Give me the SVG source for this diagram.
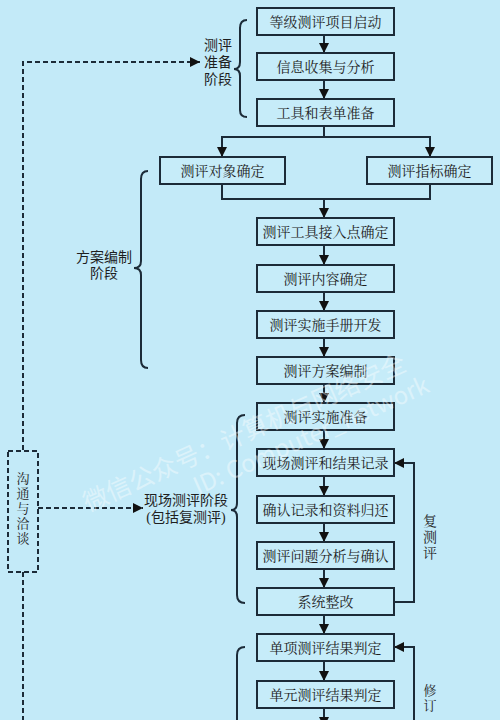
<svg xmlns="http://www.w3.org/2000/svg" width="500" height="720" viewBox="0 0 500 720">
<defs>
<style>
.bg{fill:#c3eaf8}
.box rect{fill:#c6ecf9;stroke:#1c2b38;stroke-width:2}
.box text,.lbl{font-family:"Noto Serif CJK SC","Noto Sans CJK SC","DejaVu Serif",serif;font-size:14px;fill:#1e1e1e;text-anchor:middle}
.ml{font-family:"Liberation Serif","Noto Sans CJK SC",serif}
.vert{writing-mode:vertical-rl;letter-spacing:2px}
.vl{font-size:13px}
.ln{fill:none;stroke:#1c2b38;stroke-width:2}
.dash{fill:none;stroke:#1c2b38;stroke-width:2;stroke-dasharray:5,3}
.wm{font-family:"Noto Sans CJK SC",sans-serif;fill:#ffffff;opacity:0.4}
</style>
<marker id="ah" markerUnits="userSpaceOnUse" markerWidth="10" markerHeight="12" refX="10" refY="6" orient="auto">
<path d="M0,1 L10,6 L0,11 Z" fill="#111"/>
</marker>
</defs>
<rect class="bg" x="0" y="0" width="500" height="720"/>

<g id="connectors">
<line class="ln" x1="324" y1="35" x2="324" y2="53" marker-end="url(#ah)"/>
<line class="ln" x1="324" y1="80" x2="324" y2="99" marker-end="url(#ah)"/>
<polyline class="ln" points="324,126 324,137"/>
<polyline class="ln" points="222,137 430,137"/>
<line class="ln" x1="222" y1="136" x2="222" y2="157" marker-end="url(#ah)"/>
<line class="ln" x1="430" y1="136" x2="430" y2="157" marker-end="url(#ah)"/>
<polyline class="ln" points="222,184 222,199 430,199 430,184"/>
<line class="ln" x1="324" y1="199" x2="324" y2="218" marker-end="url(#ah)"/>
<line class="ln" x1="324" y1="245" x2="324" y2="265" marker-end="url(#ah)"/>
<line class="ln" x1="324" y1="292" x2="324" y2="311" marker-end="url(#ah)"/>
<line class="ln" x1="324" y1="338" x2="324" y2="357" marker-end="url(#ah)"/>
<line class="ln" x1="324" y1="384" x2="324" y2="403" marker-end="url(#ah)"/>
<line class="ln" x1="324" y1="430" x2="324" y2="449" marker-end="url(#ah)"/>
<line class="ln" x1="324" y1="476" x2="324" y2="496" marker-end="url(#ah)"/>
<line class="ln" x1="324" y1="523" x2="324" y2="542" marker-end="url(#ah)"/>
<line class="ln" x1="324" y1="569" x2="324" y2="588" marker-end="url(#ah)"/>
<line class="ln" x1="324" y1="615" x2="324" y2="634" marker-end="url(#ah)"/>
<line class="ln" x1="324" y1="661" x2="324" y2="681" marker-end="url(#ah)"/>
<line class="ln" x1="324" y1="708" x2="324" y2="727" marker-end="url(#ah)"/>
<polyline class="ln" points="394,602 414,602 414,463 394,463" marker-end="url(#ah)"/>
<polyline class="ln" points="414,720 414,647 394,647" marker-end="url(#ah)"/>
<polyline class="dash" points="23,450 23,62 200,62" marker-end="url(#ah)"/>
<line class="dash" x1="23" y1="572" x2="23" y2="720"/>
<line class="dash" x1="38" y1="508" x2="143" y2="508" marker-end="url(#ah)"/>
<path class="ln" d="M247,20 Q240,20 240,28 L240,62 Q240,69 234,69 Q240,69 240,76 L240,110 Q240,117 247,117"/>
<path class="ln" d="M148,171 Q141,171 141,179 L141,261 Q141,268 134,268 Q141,268 141,275 L141,360 Q141,368 148,368"/>
<path class="ln" d="M245,415 Q237,415 237,423 L237,503 Q237,510 231,510 Q237,510 237,517 L237,595 Q237,603 245,603"/>
<path class="ln" d="M245,647 Q237,647 237,655 L237,720"/>
</g>

<g id="n1" class="box"><rect x="257" y="8" width="137" height="27"/><text x="325.5" y="26.5">等级测评项目启动</text></g>
<g id="n2" class="box"><rect x="257" y="53" width="137" height="27"/><text x="325.5" y="71.5">信息收集与分析</text></g>
<g id="n3" class="box"><rect x="257" y="99" width="137" height="27"/><text x="325.5" y="117.5">工具和表单准备</text></g>
<g id="n4" class="box"><rect x="160" y="157" width="125" height="27"/><text x="222.5" y="175.5">测评对象确定</text></g>
<g id="n5" class="box"><rect x="367" y="157" width="125" height="27"/><text x="429.5" y="175.5">测评指标确定</text></g>
<g id="n6" class="box"><rect x="257" y="218" width="137" height="27"/><text x="325.5" y="236.5">测评工具接入点确定</text></g>
<g id="n7" class="box"><rect x="257" y="265" width="137" height="27"/><text x="325.5" y="283.5">测评内容确定</text></g>
<g id="n8" class="box"><rect x="257" y="311" width="137" height="27"/><text x="325.5" y="329.5">测评实施手册开发</text></g>
<g id="n9" class="box"><rect x="257" y="357" width="137" height="27"/><text x="325.5" y="375.5">测评方案编制</text></g>
<g id="n10" class="box"><rect x="257" y="403" width="137" height="27"/><text x="325.5" y="421.5">测评实施准备</text></g>
<g id="n11" class="box"><rect x="257" y="449" width="137" height="27"/><text x="325.5" y="467.5">现场测评和结果记录</text></g>
<g id="n12" class="box"><rect x="257" y="496" width="137" height="27"/><text x="325.5" y="514.5">确认记录和资料归还</text></g>
<g id="n13" class="box"><rect x="257" y="542" width="137" height="27"/><text x="325.5" y="560.5">测评问题分析与确认</text></g>
<g id="n14" class="box"><rect x="257" y="588" width="137" height="27"/><text x="325.5" y="606.5">系统整改</text></g>
<g id="n15" class="box"><rect x="257" y="634" width="137" height="27"/><text x="325.5" y="652.5">单项测评结果判定</text></g>
<g id="n16" class="box"><rect x="257" y="681" width="137" height="27"/><text x="325.5" y="699.5">单元测评结果判定</text></g>

<g id="comm">
<rect class="dash" x="8" y="451" width="30" height="121"/>
<text class="lbl vl vert" x="23" y="509">沟通与洽谈</text>
</g>

<g id="labels">
<text class="lbl ml" x="218" y="50">测评</text>
<text class="lbl ml" x="218" y="67">准备</text>
<text class="lbl ml" x="218" y="84">阶段</text>
<text class="lbl ml" x="104" y="262">方案编制</text>
<text class="lbl ml" x="104" y="278">阶段</text>
<text class="lbl ml" x="186" y="505">现场测评阶段</text>
<text class="lbl ml" x="186" y="522">(包括复测评)</text>
<text class="lbl vert" x="430" y="538">复测评</text>
<text class="lbl vl vert" x="430" y="699">修订</text>
</g>

<g id="watermark">
<text class="wm" font-size="25" transform="translate(88,512) rotate(-24)">微信公众号：计算机与网络安全</text>
<text class="wm" font-size="24" transform="translate(198,495) rotate(-24)">ID: Computer_network</text>
</g>
</svg>
